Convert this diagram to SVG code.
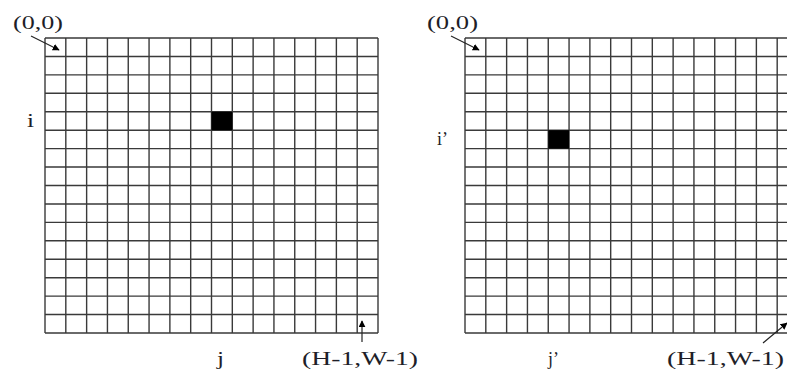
<svg xmlns="http://www.w3.org/2000/svg" width="787" height="374" viewBox="0 0 787 374">
<style>
.grid{fill:none;stroke:#3a3a3a;stroke-width:1.4}
.cell{fill:#000}
.lbl{font-family:"Liberation Serif","Times New Roman",serif;font-size:18.5px;fill:#1e1e28}
.arr{fill:none;stroke:#222;stroke-width:1.2}
</style>
<defs>
<marker id="ah" viewBox="0 0 10 10" refX="9" refY="5" markerWidth="7" markerHeight="7" markerUnits="userSpaceOnUse" orient="auto">
<path d="M0 0L10 5L0 10z" fill="#000"/>
</marker>
</defs>
<rect width="787" height="374" fill="#fff"/>
<g id="grid-left">
<path class="grid" d="M45 38V333M65.81 38V333M86.63 38V333M107.44 38V333M128.25 38V333M149.06 38V333M169.88 38V333M190.69 38V333M211.5 38V333M232.31 38V333M253.13 38V333M273.94 38V333M294.75 38V333M315.56 38V333M336.38 38V333M357.19 38V333M378 38V333M45 38H378M45 56.44H378M45 74.88H378M45 93.31H378M45 111.75H378M45 130.19H378M45 148.63H378M45 167.06H378M45 185.5H378M45 203.94H378M45 222.38H378M45 240.81H378M45 259.25H378M45 277.69H378M45 296.13H378M45 314.56H378M45 333H378"/>
<rect class="cell" x="211.5" y="111.75" width="20.81" height="18.44"/>
</g>
<g id="grid-right">
<path class="grid" d="M465 38V333M485.81 38V333M506.63 38V333M527.44 38V333M548.25 38V333M569.06 38V333M589.88 38V333M610.69 38V333M631.5 38V333M652.31 38V333M673.13 38V333M693.94 38V333M714.75 38V333M735.56 38V333M756.38 38V333M777.19 38V333M798 38V333M465 38H798M465 56.44H798M465 74.88H798M465 93.31H798M465 111.75H798M465 130.19H798M465 148.63H798M465 167.06H798M465 185.5H798M465 203.94H798M465 222.38H798M465 240.81H798M465 259.25H798M465 277.69H798M465 296.13H798M465 314.56H798M465 333H798"/>
<rect class="cell" x="548.25" y="130.19" width="20.81" height="18.44"/>
</g>
<g id="labels-left">
<text class="lbl" x="13" y="29" textLength="50" lengthAdjust="spacingAndGlyphs">(0,0)</text>
<text class="lbl" x="27" y="127" textLength="7" lengthAdjust="spacingAndGlyphs">i</text>
<text class="lbl" x="217" y="365" textLength="7" lengthAdjust="spacingAndGlyphs">j</text>
<text class="lbl" x="302" y="364.5" textLength="116" lengthAdjust="spacingAndGlyphs">(H-1,W-1)</text>
</g>
<g id="labels-right">
<text class="lbl" x="427" y="29" textLength="51" lengthAdjust="spacingAndGlyphs">(0,0)</text>
<text class="lbl" x="437" y="145" textLength="11" lengthAdjust="spacingAndGlyphs">i’</text>
<text class="lbl" x="548" y="365" textLength="11" lengthAdjust="spacingAndGlyphs">j’</text>
<text class="lbl" x="667" y="364.5" textLength="117" lengthAdjust="spacingAndGlyphs">(H-1,W-1)</text>
</g>
<g id="connectors">
<path class="arr" d="M31 36L59 50" marker-end="url(#ah)"/>
<path class="arr" d="M451 36L479 50" marker-end="url(#ah)"/>
<path class="arr" d="M362 342L362 321" marker-end="url(#ah)"/>
<path class="arr" d="M763 343L787 323" marker-end="url(#ah)"/>
</g>
</svg>
